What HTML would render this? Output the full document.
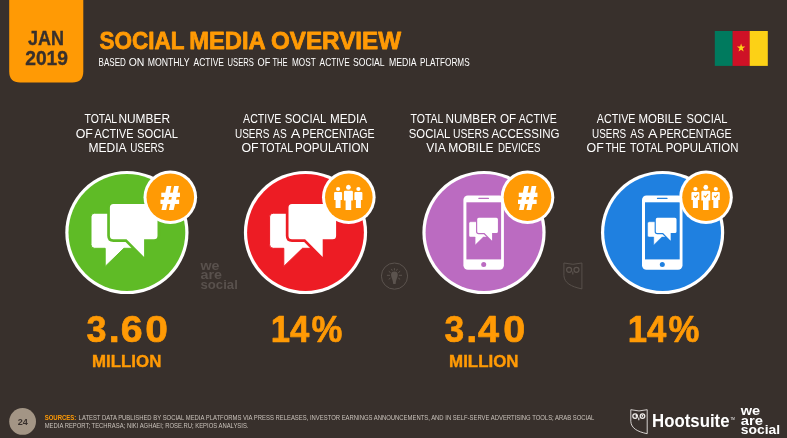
<!DOCTYPE html>
<html lang="en">
<head>
<meta charset="utf-8">
<title>Social Media Overview</title>
<style>
html,body{margin:0;padding:0;background:#38302c;}
body{width:787px;height:438px;overflow:hidden;}
svg{display:block;}
text{font-family:"Liberation Sans",sans-serif;}
.b{font-weight:bold;}
.lab2 text{font-size:13.3px;fill:#ffffff;}
.big2{font-size:37.8px;font-weight:bold;fill:#ff9a05;stroke:#ff9a05;stroke-width:0.7px;stroke-linejoin:round;}
.mil2{font-size:16.6px;font-weight:bold;fill:#ff9a05;stroke:#ff9a05;stroke-width:0.4px;}
.src{font-size:6.8px;fill:#c9c2bb;}
</style>
</head>
<body>
<svg width="787" height="438" viewBox="0 0 787 438">
<defs>
  <g id="bubbles">
    <!-- back bubble -->
    <path d="M94.6 213.2 H140 V248.3 H123.9 L105.2 266.4 V248.3 H94.6 Q91 248.3 91 244.7 V216.8 Q91 213.2 94.6 213.2 Z" fill="#fff"/>
    <!-- front bubble -->
    <path d="M113.4 204.1 H154 Q157.5 204.1 157.5 207.6 V235.7 Q157.5 239.2 154 239.2 H144.1 V257 L126.5 239.2 H113.4 Q109.9 239.2 109.9 235.7 V207.6 Q109.9 204.1 113.4 204.1 Z" fill="#fff" stroke-width="5.4" stroke-linejoin="round" paint-order="stroke"/>
  </g>
  <g id="phone">
    <rect x="463.4" y="195.4" width="40.5" height="74.3" rx="4.5" fill="#fff"/>
    <rect class="scr" x="466.4" y="202.3" width="34.7" height="57.1"/>
    <rect class="scr" x="478.3" y="197.8" width="10.7" height="1.3" rx="0.6"/>
    <circle class="scr" cx="483.7" cy="264.5" r="2.5"/>
  </g>
  <g id="person">
    <circle cx="0" cy="0" r="2.1"/>
    <path d="M-3 3 H3 Q4 3 4 4 V11 H2.5 V19 H-2.5 V11 H-4 V4 Q-4 3 -3 3 Z"/>
  </g>
</defs>
<rect width="787" height="438" fill="#38302c"/>

<!-- date tab -->
<path d="M9.2 0 H83.3 V71.6 Q83.3 82.6 72.3 82.6 H20.2 Q9.2 82.6 9.2 71.6 Z" fill="#ff9a05"/>
<text x="45.9" y="45.2" class="b" font-size="20.3" stroke="#38302c" stroke-width="0.35" fill="#38302c" text-anchor="middle" textLength="36" lengthAdjust="spacingAndGlyphs">JAN</text>
<text x="46.6" y="65.4" class="b" font-size="20" stroke="#38302c" stroke-width="0.35" fill="#38302c" text-anchor="middle" textLength="42.8" lengthAdjust="spacingAndGlyphs">2019</text>

<!-- title -->
<text y="48.5" class="b" font-size="24.6" fill="#ff9a05" stroke="#ff9a05" stroke-width="0.8" stroke-linejoin="round"><tspan x="99.5" textLength="84.6" lengthAdjust="spacingAndGlyphs">SOCIAL</tspan> <tspan x="189.2" textLength="75.6" lengthAdjust="spacingAndGlyphs">MEDIA</tspan> <tspan x="271.0" textLength="130.0" lengthAdjust="spacingAndGlyphs">OVERVIEW</tspan></text>
<text y="65.7" font-size="10.4" fill="#ffffff"><tspan x="98.6" textLength="27.3" lengthAdjust="spacingAndGlyphs">BASED</tspan> <tspan x="128.7" textLength="15.7" lengthAdjust="spacingAndGlyphs">ON</tspan> <tspan x="147.7" textLength="41.7" lengthAdjust="spacingAndGlyphs">MONTHLY</tspan> <tspan x="193.5" textLength="30.5" lengthAdjust="spacingAndGlyphs">ACTIVE</tspan> <tspan x="227.6" textLength="26.3" lengthAdjust="spacingAndGlyphs">USERS</tspan> <tspan x="257.5" textLength="12.8" lengthAdjust="spacingAndGlyphs">OF</tspan> <tspan x="272.5" textLength="15.1" lengthAdjust="spacingAndGlyphs">THE</tspan> <tspan x="292.0" textLength="23.6" lengthAdjust="spacingAndGlyphs">MOST</tspan> <tspan x="319.6" textLength="30.1" lengthAdjust="spacingAndGlyphs">ACTIVE</tspan> <tspan x="353.0" textLength="31.3" lengthAdjust="spacingAndGlyphs">SOCIAL</tspan> <tspan x="389.0" textLength="27.2" lengthAdjust="spacingAndGlyphs">MEDIA</tspan> <tspan x="420.1" textLength="49.5" lengthAdjust="spacingAndGlyphs">PLATFORMS</tspan></text>

<!-- flag -->
<rect x="714.8" y="31" width="18" height="34.9" fill="#007a5e"/>
<rect x="732.6" y="31" width="17.3" height="34.9" fill="#ce1126"/>
<rect x="749.7" y="31" width="18.1" height="34.9" fill="#fcd116"/>
<polygon fill="#fcd116" points="741.1,43.6 742.1,46.6 745.3,46.6 742.7,48.5 743.7,51.6 741.1,49.7 738.5,51.6 739.5,48.5 736.9,46.6 740.1,46.6"/>

<!-- labels -->
<g class="lab2">
<text y="123.0"><tspan x="84.5" textLength="32.3" lengthAdjust="spacingAndGlyphs">TOTAL</tspan> <tspan x="118.4" textLength="51.6" lengthAdjust="spacingAndGlyphs">NUMBER</tspan></text>
<text y="137.6"><tspan x="75.7" textLength="17.2" lengthAdjust="spacingAndGlyphs">OF</tspan> <tspan x="94.5" textLength="39.0" lengthAdjust="spacingAndGlyphs">ACTIVE</tspan> <tspan x="137.0" textLength="41.0" lengthAdjust="spacingAndGlyphs">SOCIAL</tspan></text>
<text y="152.2"><tspan x="88.5" textLength="37.5" lengthAdjust="spacingAndGlyphs">MEDIA</tspan> <tspan x="130.2" textLength="34.0" lengthAdjust="spacingAndGlyphs">USERS</tspan></text>
<text y="123.0"><tspan x="243.1" textLength="38.2" lengthAdjust="spacingAndGlyphs">ACTIVE</tspan> <tspan x="284.8" textLength="41.2" lengthAdjust="spacingAndGlyphs">SOCIAL</tspan> <tspan x="329.9" textLength="37.1" lengthAdjust="spacingAndGlyphs">MEDIA</tspan></text>
<text y="137.6"><tspan x="235.0" textLength="34.4" lengthAdjust="spacingAndGlyphs">USERS</tspan> <tspan x="273.1" textLength="13.6" lengthAdjust="spacingAndGlyphs">AS</tspan> <tspan x="290.7" textLength="8.8" lengthAdjust="spacingAndGlyphs">A</tspan> <tspan x="302.3" textLength="72.4" lengthAdjust="spacingAndGlyphs">PERCENTAGE</tspan></text>
<text y="152.2"><tspan x="241.4" textLength="17.2" lengthAdjust="spacingAndGlyphs">OF</tspan> <tspan x="259.9" textLength="32.9" lengthAdjust="spacingAndGlyphs">TOTAL</tspan> <tspan x="295.1" textLength="73.9" lengthAdjust="spacingAndGlyphs">POPULATION</tspan></text>
<text y="123.0"><tspan x="410.5" textLength="32.6" lengthAdjust="spacingAndGlyphs">TOTAL</tspan> <tspan x="445.6" textLength="50.9" lengthAdjust="spacingAndGlyphs">NUMBER</tspan> <tspan x="500.0" textLength="16.1" lengthAdjust="spacingAndGlyphs">OF</tspan> <tspan x="518.8" textLength="38.1" lengthAdjust="spacingAndGlyphs">ACTIVE</tspan></text>
<text y="137.6"><tspan x="408.8" textLength="41.1" lengthAdjust="spacingAndGlyphs">SOCIAL</tspan> <tspan x="453.1" textLength="35.9" lengthAdjust="spacingAndGlyphs">USERS</tspan> <tspan x="491.4" textLength="68.2" lengthAdjust="spacingAndGlyphs">ACCESSING</tspan></text>
<text y="152.2"><tspan x="426.3" textLength="18.7" lengthAdjust="spacingAndGlyphs">VIA</tspan> <tspan x="448.2" textLength="45.4" lengthAdjust="spacingAndGlyphs">MOBILE</tspan> <tspan x="498.1" textLength="42.3" lengthAdjust="spacingAndGlyphs">DEVICES</tspan></text>
<text y="123.0"><tspan x="596.8" textLength="38.7" lengthAdjust="spacingAndGlyphs">ACTIVE</tspan> <tspan x="638.5" textLength="43.3" lengthAdjust="spacingAndGlyphs">MOBILE</tspan> <tspan x="686.5" textLength="40.9" lengthAdjust="spacingAndGlyphs">SOCIAL</tspan></text>
<text y="137.6"><tspan x="592.1" textLength="34.1" lengthAdjust="spacingAndGlyphs">USERS</tspan> <tspan x="630.2" textLength="13.9" lengthAdjust="spacingAndGlyphs">AS</tspan> <tspan x="648.0" textLength="8.7" lengthAdjust="spacingAndGlyphs">A</tspan> <tspan x="659.4" textLength="72.1" lengthAdjust="spacingAndGlyphs">PERCENTAGE</tspan></text>
<text y="152.2"><tspan x="586.6" textLength="17.2" lengthAdjust="spacingAndGlyphs">OF</tspan> <tspan x="605.4" textLength="20.4" lengthAdjust="spacingAndGlyphs">THE</tspan> <tspan x="629.9" textLength="33.0" lengthAdjust="spacingAndGlyphs">TOTAL</tspan> <tspan x="665.7" textLength="72.7" lengthAdjust="spacingAndGlyphs">POPULATION</tspan></text>
</g>

<!-- watermarks -->
<g fill="#59514d" class="b" font-size="12.2">
<text x="200.5" y="270" textLength="19" lengthAdjust="spacingAndGlyphs">we</text>
<text x="200.5" y="279.2" textLength="21.5" lengthAdjust="spacingAndGlyphs">are</text>
<text x="200.5" y="288.5" textLength="37.3" lengthAdjust="spacingAndGlyphs">social</text>
</g>
<g fill="none" stroke="#5b534e" stroke-width="1">
<circle cx="394.5" cy="276.1" r="13.1"/>
<path d="M386.9 275.3 H390 M398.9 275.3 H402 M394.4 268.2 V270.4 M388.7 271.2 L390.6 272.7 M400.2 271.2 L398.3 272.7 M391.4 268.9 L392.3 270.7 M397.4 268.9 L396.5 270.7 M388.7 279.3 L390.5 278.1 M400.1 279.3 L398.3 278.1"/>
<path d="M394.4 271.4 A3.4 3.4 0 0 1 397.8 274.8 C397.8 277.4 395.8 279.6 395.6 284 H393.2 C393 279.6 391 277.4 391 274.8 A3.4 3.4 0 0 1 394.4 271.4 Z" fill="#5b534e" stroke="none"/>
</g>
<g fill="none" stroke="#5b534e" stroke-width="0.9">
<path d="M563.9 263 Q573 265.6 581.9 263 V288.9 C571 286.6 564.3 283 563.9 275.5 Z"/>
<circle cx="569.1" cy="269.8" r="2.5" stroke-width="1.2"/>
<circle cx="576.5" cy="269.8" r="2.5" stroke-width="1.2"/>
<path d="M572.8 271.4 L572.8 274.6" stroke-width="1.2"/>
</g>

<!-- circle 1 -->
<circle cx="126.9" cy="232.5" r="61.6" fill="#fff"/>
<circle cx="126.9" cy="232.5" r="58.4" fill="#5fbb26"/>
<g stroke="#5fbb26"><use href="#bubbles"/></g>
<circle cx="170.3" cy="197.3" r="26.8" fill="#fff"/>
<circle cx="170.3" cy="197.3" r="23.8" fill="#ff9a05"/>
<text x="170.3" y="208.5" class="b" font-size="31.4" fill="#fff" stroke="#fff" stroke-width="2" stroke-linejoin="miter" text-anchor="middle" textLength="18.4" lengthAdjust="spacingAndGlyphs">#</text>

<!-- circle 2 -->
<circle cx="305.5" cy="232.5" r="61.6" fill="#fff"/>
<circle cx="305.5" cy="232.5" r="58.4" fill="#ed1c24"/>
<g stroke="#ed1c24" transform="translate(178.6 0)"><use href="#bubbles"/></g>
<circle cx="348.8" cy="197.3" r="26.8" fill="#fff"/>
<circle cx="348.8" cy="197.3" r="23.8" fill="#ff9a05"/>
<g fill="#fff">
<use href="#person" transform="translate(338.1 189)"/>
<use href="#person" transform="translate(358.4 189)"/>
<use href="#person" transform="translate(348.4 187.2) scale(1.12 1.2)"/>
</g>

<!-- circle 3 -->
<circle cx="484" cy="232.5" r="61.6" fill="#fff"/>
<circle cx="484" cy="232.5" r="58.4" fill="#bb6bc1"/>
<g fill="#bb6bc1"><use href="#phone"/></g>
<g stroke="#bb6bc1" transform="translate(429.4 129) scale(0.435)"><use href="#bubbles"/></g>
<circle cx="527.5" cy="197.3" r="26.8" fill="#fff"/>
<circle cx="527.5" cy="197.3" r="23.8" fill="#ff9a05"/>
<text x="527.6" y="208.5" class="b" font-size="31.4" fill="#fff" stroke="#fff" stroke-width="2" stroke-linejoin="miter" text-anchor="middle" textLength="18.4" lengthAdjust="spacingAndGlyphs">#</text>

<!-- circle 4 -->
<circle cx="662.6" cy="232.5" r="61.6" fill="#fff"/>
<circle cx="662.6" cy="232.5" r="58.4" fill="#1f80e0"/>
<g fill="#1f80e0" transform="translate(178.6 0)"><use href="#phone"/></g>
<g stroke="#1f80e0" transform="translate(608 129) scale(0.435)"><use href="#bubbles"/></g>
<circle cx="706" cy="197.3" r="26.8" fill="#fff"/>
<circle cx="706" cy="197.3" r="23.8" fill="#ff9a05"/>
<g fill="#fff">
<use href="#person" transform="translate(695.4 189)"/>
<use href="#person" transform="translate(715.8 189)"/>
<use href="#person" transform="translate(705.8 187.2) scale(1.12 1.2)"/>
</g>
<g fill="none" stroke="#ff9a05" stroke-width="1.1">
<path d="M694.2 196 L695.6 197.4 L698 194.6"/>
<path d="M703.8 195.6 L705.4 197.2 L708.2 194"/>
<path d="M714.1 196 L715.5 197.4 L717.9 194.6"/>
</g>

<!-- big numbers -->
<text y="342.3" class="big2"><tspan x="86.6" textLength="20.0" lengthAdjust="spacingAndGlyphs">3</tspan><tspan x="108.8" textLength="11.0" lengthAdjust="spacingAndGlyphs">.</tspan><tspan x="120.8" textLength="21.9" lengthAdjust="spacingAndGlyphs">6</tspan><tspan x="145.3" textLength="22.7" lengthAdjust="spacingAndGlyphs">0</tspan></text>
<text y="366.9" class="mil2"><tspan x="92.1" textLength="69.2" lengthAdjust="spacingAndGlyphs">MILLION</tspan></text>
<text y="342.3" class="big2"><tspan x="270.8" textLength="38.6" lengthAdjust="spacingAndGlyphs">14</tspan><tspan x="311.6" textLength="30.9" lengthAdjust="spacingAndGlyphs">%</tspan></text>
<text y="342.3" class="big2"><tspan x="444.4" textLength="19.7" lengthAdjust="spacingAndGlyphs">3</tspan><tspan x="466.3" textLength="11.0" lengthAdjust="spacingAndGlyphs">.</tspan><tspan x="478.1" textLength="21.1" lengthAdjust="spacingAndGlyphs">4</tspan><tspan x="503.3" textLength="22.0" lengthAdjust="spacingAndGlyphs">0</tspan></text>
<text y="366.9" class="mil2"><tspan x="449.1" textLength="69.4" lengthAdjust="spacingAndGlyphs">MILLION</tspan></text>
<text y="342.3" class="big2"><tspan x="627.8" textLength="38.6" lengthAdjust="spacingAndGlyphs">14</tspan><tspan x="668.6" textLength="30.9" lengthAdjust="spacingAndGlyphs">%</tspan></text>

<!-- footer -->
<circle cx="22.6" cy="421.4" r="13.4" fill="#a39585"/>
<text x="22.8" y="424.9" class="b" font-size="8.5" fill="#38302c" text-anchor="middle" textLength="10.1" lengthAdjust="spacingAndGlyphs">24</text>
<text x="44.7" y="419.6" class="src"><tspan class="b" fill="#ff9a05" textLength="31.6" lengthAdjust="spacingAndGlyphs">SOURCES:</tspan></text>
<text x="78.6" y="419.6" class="src" textLength="515.8" lengthAdjust="spacingAndGlyphs">LATEST DATA PUBLISHED BY SOCIAL MEDIA PLATFORMS VIA PRESS RELEASES, INVESTOR EARNINGS ANNOUNCEMENTS, AND IN SELF-SERVE ADVERTISING TOOLS; ARAB SOCIAL</text>
<text x="44.7" y="428.1" class="src" textLength="203.8" lengthAdjust="spacingAndGlyphs">MEDIA REPORT; TECHRASA; NIKI AGHAEI; ROSE.RU; KEPIOS ANALYSIS.</text>

<!-- hootsuite -->
<g fill="none" stroke="#f2efec" stroke-width="0.85" transform="translate(-0.6 0.3)">
<path d="M631.4 409.4 Q639.6 411.9 647.8 409.4 V433.4 C638 431.4 631.8 428 631.4 421 Z"/>
<circle cx="635.7" cy="415.8" r="2.3" stroke-width="1.2"/>
<circle cx="643.1" cy="415.8" r="2.3" stroke-width="1.2"/>
<path d="M639.4 417.2 L639.4 420" stroke-width="1.1"/>
</g>
<circle cx="636.4" cy="415.8" r="0.9" fill="#fff"/>
<circle cx="642.4" cy="415.8" r="0.9" fill="#fff"/>
<text x="652.1" y="426.7" class="b" font-size="18" fill="#fff" textLength="77.4" lengthAdjust="spacingAndGlyphs">Hootsuite</text>
<text x="730.4" y="420" font-size="3" fill="#fff">TM</text>

<!-- we are social -->
<g fill="#fff" class="b" font-size="13">
<text x="740.8" y="415" textLength="19.4" lengthAdjust="spacingAndGlyphs">we</text>
<text x="740.8" y="424.6" textLength="22.2" lengthAdjust="spacingAndGlyphs">are</text>
<text x="740.8" y="434.4" textLength="39.4" lengthAdjust="spacingAndGlyphs">social</text>
</g>
</svg>
</body>
</html>
